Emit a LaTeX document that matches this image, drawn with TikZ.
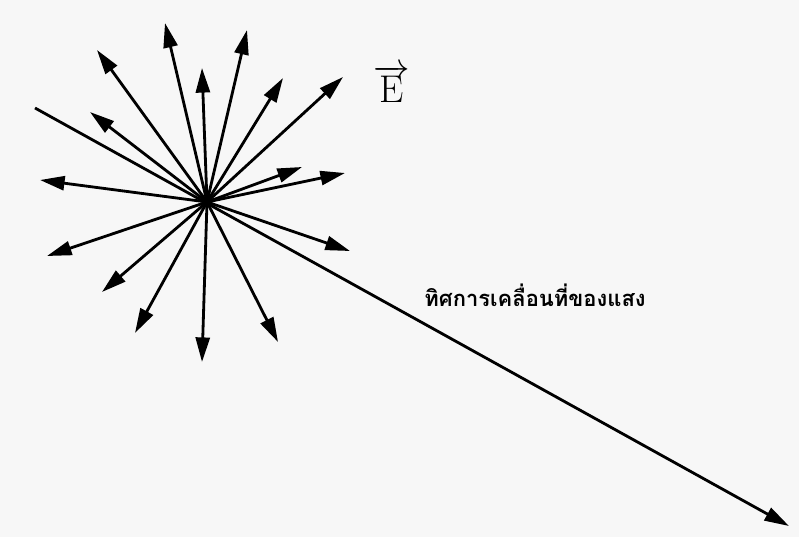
\documentclass[tikz,border=0pt]{standalone}
\usepackage{fontspec}
\newfontfamily\thaifont[Script=Thai]{Loma}
\usetikzlibrary{arrows.meta}

\tikzset{
  fleche/.style={line width=1.6pt, -{Triangle[length=14pt,width=8pt]}},
  texte/.style={font=\thaifont\bfseries\fontsize{12.5}{14}\selectfont}
}

\begin{document}
\begin{tikzpicture}[x=0.02cm,y=-0.02cm]
  % Fond
  \fill[black!3] (0,0) rectangle (799,537);
  \useasboundingbox (0,0) rectangle (799,537);

  % Centre
  \coordinate (O) at (207,202);

  % Champ electrique
  \foreach \n/\a/\b in {1/97/50, 2/165/23, 3/202/68, 4/247/30,
      5/283/78, 6/343/77, 7/90/112, 8/40/180,
      9/302/167, 10/345/173, 11/47/256, 12/102/292,
      13/135/333, 14/202/362, 15/278/342, 16/350/251} {
    \coordinate (E\n) at (\a,\b);
    \draw[fleche] (O) -- (E\n);
  }
  \node (vecE) at (392,84) {\fontsize{22}{26}\selectfont$\overrightarrow{\mathrm{E}}$};

  % Direction de propagation
  \coordinate (queue) at (35,108);
  \coordinate (dir) at (789,526);
  \draw[fleche] (queue) -- (dir);
  \node[texte] (prop) at (535,295) {ทิศการเคลื่อนที่ของแสง};
\end{tikzpicture}
\end{document}
